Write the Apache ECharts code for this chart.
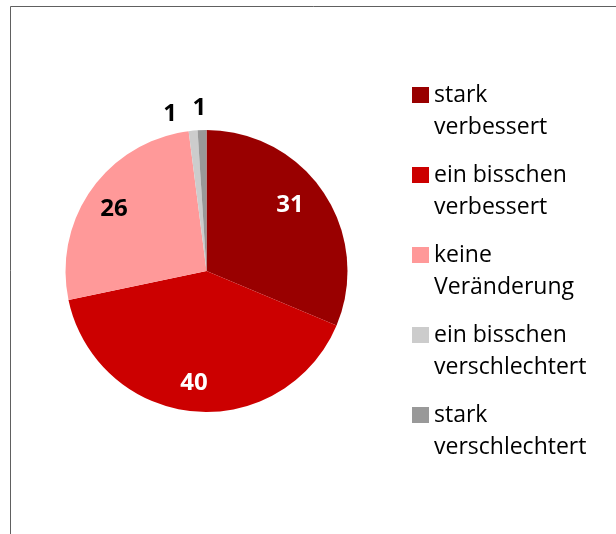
<!DOCTYPE html>
<html><head><meta charset="utf-8">
<script src="https://cdn.jsdelivr.net/npm/echarts@6/dist/echarts.min.js"></script>
<style>html,body{margin:0;padding:0;background:#fff}#c{width:616px;height:534px}</style>
</head><body><div id="c"></div>
<script>
const categories = ['stark verbessert', 'ein bisschen verbessert', 'keine Veränderung', 'ein bisschen verschlechtert', 'stark verschlechtert'];
const values = [31, 40, 26, 1, 1];
const colors = ['#990000', '#CC0000', '#FF9999', '#CCCCCC', '#999999'];
const labelColors = ['#ffffff', '#ffffff', '#000000', '#000000', '#000000'];

const chart = echarts.init(document.getElementById('c'), null, {renderer: 'canvas'});
const center = [206.5, 271];
const R = 141;
const labelFont = {fontFamily: 'Open Sans', fontWeight: 'bold', fontSize: 24};
const labelOffsets = {0: [-9, -4], 1: [-2, 2], 2: [-2, 3], 3: [-21, 5], 4: [-2, 0]};

function overlay(r0, r1, showFn) {
  return {
    type: 'pie', center: center, radius: [r0, r1], startAngle: 90, silent: true,
    avoidLabelOverlap: false, animation: false,
    itemStyle: {color: 'rgba(0,0,0,0)'}, labelLine: {show: false},
    emphasis: {disabled: true}, tooltip: {show: false},
    data: categories.map((n, i) => ({
      name: n, value: values[i],
      label: Object.assign({show: showFn(i), position: 'inside', color: labelColors[i],
        offset: labelOffsets[i] || [0, 0], formatter: '{c}'}, labelFont)
    }))
  };
}

chart.setOption({
  animation: false,
  backgroundColor: '#ffffff',
  graphic: [{
    type: 'polyline', silent: true,
    shape: {points: [[10.5, 534], [10.5, 6.5], [616, 6.5]]},
    style: {stroke: '#606060', lineWidth: 1, fill: null}
  }],
  legend: {
    orient: 'vertical', left: 412, top: 47, padding: 0,
    itemWidth: 17, itemHeight: 16, itemGap: -16, icon: 'rect', selectedMode: false,
    data: categories,
    textStyle: {fontFamily: 'Open Sans', fontSize: 23, color: '#000', lineHeight: 32},
    formatter: function (n) { const k = n.lastIndexOf(' '); return '\n' + n.slice(0, k) + '\n' + n.slice(k + 1); }
  },
  series: [
    {
      type: 'pie', center: center, radius: R, startAngle: 90, silent: true,
      label: {show: false}, labelLine: {show: false}, emphasis: {disabled: true},
      data: categories.map((n, i) => ({name: n, value: values[i], itemStyle: {color: colors[i]}}))
    },
    overlay(74, 142, i => i < 3),
    overlay(146, 174, i => i >= 3)
  ]
});
</script></body></html>
